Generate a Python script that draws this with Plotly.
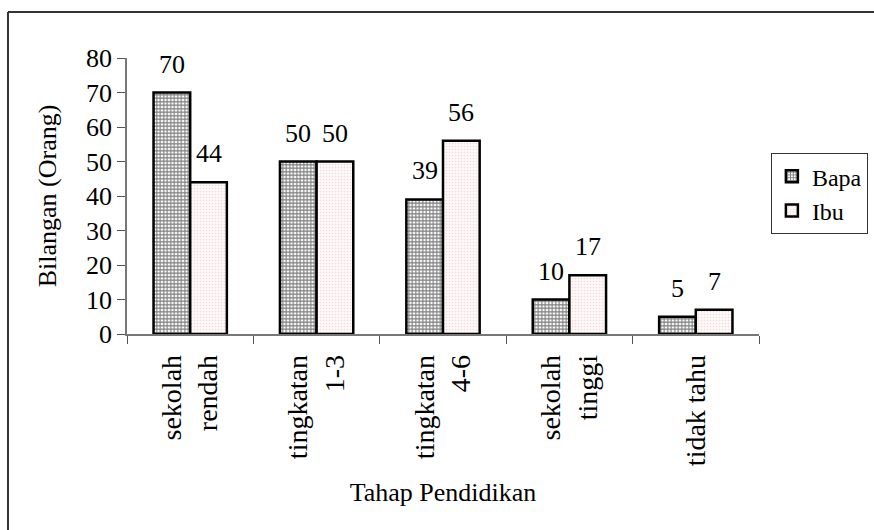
import plotly.graph_objects as go

categories = ["sekolah<br>rendah", "tingkatan<br>1-3", "tingkatan<br>4-6", "sekolah<br>tinggi", "tidak tahu"]
bapa = [70, 50, 39, 10, 5]
ibu = [44, 50, 56, 17, 7]
y_ticks = [0, 10, 20, 30, 40, 50, 60, 70, 80]

FONT = "Liberation Serif, Times New Roman, serif"
FS = 26

W, H = 874, 530
ML, MR, MT, MB = 127, 115, 58, 196
BARGAP = 0.42
plot_w = W - ML - MR
bar_w = plot_w / len(categories) * (1 - BARGAP) / 2

fig = go.Figure()
fig.add_trace(go.Bar(
    name="Bapa", x=categories, y=bapa,
    marker=dict(color="white", line=dict(color="black", width=2.5),
                pattern=dict(shape="+", fgcolor="#000000", bgcolor="white", size=3.5, solidity=0.55)),
    cliponaxis=False,
))
fig.add_trace(go.Bar(
    name="Ibu", x=categories, y=ibu,
    marker=dict(color="white", line=dict(color="black", width=2.5),
                pattern=dict(shape=".", fgcolor="#e6b8b8", bgcolor="#fffafa", size=3, solidity=0.25)),
    cliponaxis=False,
))

annotations = []
for series, sign in ((bapa, -1), (ibu, 1)):
    for cat, val in zip(categories, series):
        annotations.append(dict(
            x=cat, y=val, xref="x", yref="y", text=str(val), showarrow=False,
            xanchor="center", yanchor="bottom", xshift=sign * bar_w / 2, yshift=12,
            font=dict(size=FS, family=FONT, color="black"),
        ))

fig.update_layout(
    width=W, height=H,
    margin=dict(l=ML, r=MR, t=MT, b=MB, autoexpand=False),
    paper_bgcolor="white", plot_bgcolor="white",
    font=dict(family=FONT, size=FS, color="black"),
    barmode="group", bargap=BARGAP, bargroupgap=0,
    showlegend=True,
    legend=dict(xref="container", x=0.993, y=0.655, xanchor="right", yanchor="top",
                bordercolor="#333333", borderwidth=1, bgcolor="white",
                font=dict(size=24, family=FONT), tracegroupgap=0, itemwidth=30),
    annotations=annotations,
    shapes=[
        dict(type="line", xref="paper", yref="paper", x0=-0.1883, x1=1.3, y0=1.1667, y1=1.1667,
             line=dict(color="#333333", width=2)),
        dict(type="line", xref="paper", yref="paper", x0=-0.1883, x1=-0.1883, y0=1.1667, y1=-0.8,
             line=dict(color="#333333", width=2)),
    ],
)
fig.update_xaxes(
    showline=True, linecolor="#777777", linewidth=1.5,
    ticks="outside", tickson="boundaries", ticklen=8, tickcolor="#555555",
    tickangle=-90, tickfont=dict(size=28, family=FONT), ticklabelstandoff=8,
    title=dict(text="Tahap Pendidikan", font=dict(size=FS, family=FONT), standoff=18),
    showgrid=False, zeroline=False,
)
fig.update_yaxes(
    range=[0, 80], tickvals=y_ticks,
    showline=True, linecolor="#777777", linewidth=1.5,
    ticks="outside", ticklen=8, tickcolor="#555555",
    tickfont=dict(size=FS, family=FONT),
    title=dict(text="Bilangan (Orang)", font=dict(size=FS, family=FONT), standoff=22),
    showgrid=False, zeroline=False,
)

fig.write_html("out.html", config={"displayModeBar": False},
               post_script="document.body.style.margin='0';")
